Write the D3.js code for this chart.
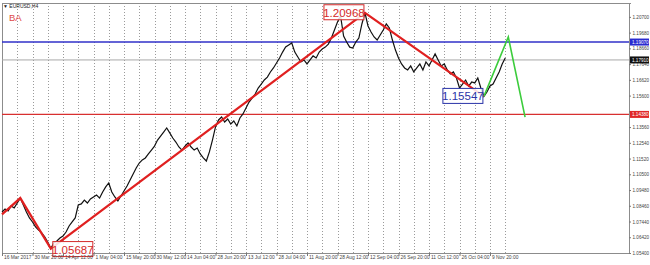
<!DOCTYPE html>
<html>
<head>
<meta charset="utf-8">
<script src="https://cdn.jsdelivr.net/npm/d3@7"></script>
<style>
  body { margin: 0; background: #fff; }
  svg { display: block; font-family: "Liberation Sans", Arial, sans-serif; }
</style>
</head>
<body>
<div id="vis"></div>
<script>
// tick labels on the time axis (one every label interval)
const timeLabels = ["16 Mar 2017", "30 Mar 20:00", "14 Apr 12:00", "1 May 04:00", "15 May 20:00",
  "30 May 12:00", "14 Jun 04:00", "28 Jun 20:00", "13 Jul 12:00", "28 Jul 04:00", "11 Aug 20:00",
  "28 Aug 12:00", "12 Sep 04:00", "26 Sep 20:00", "11 Oct 12:00", "26 Oct 04:00", "9 Nov 20:00"];

// price scale labels
const priceTicks = [1.05400, 1.06420, 1.07440, 1.08460, 1.09480, 1.10500, 1.11520, 1.12540,
  1.13560, 1.14580, 1.15600, 1.16620, 1.17640, 1.18660, 1.19680, 1.20700];

// EURUSD H4 close, sampled every 1/10 of a label interval
const prices = [
  1.0806, 1.0825, 1.0812, 1.0845, 1.0832, 1.0864, 1.0896, 1.0851, 1.0806, 1.0767,
  1.0741, 1.0709, 1.0689, 1.0670, 1.0644, 1.0611, 1.05687, 1.0605, 1.0618, 1.0637,
  1.0650, 1.0676, 1.0715, 1.0741, 1.0767, 1.0851, 1.0858, 1.0883, 1.0864, 1.0890,
  1.0903, 1.0916, 1.0896, 1.0935, 1.0968, 1.0994, 1.0935, 1.0903, 1.0877, 1.0909,
  1.0942, 1.0974, 1.1013, 1.1052, 1.1091, 1.1123, 1.1143, 1.1156, 1.1182, 1.1207,
  1.1233, 1.1272, 1.1298, 1.1324, 1.1350, 1.1318, 1.1285, 1.1259, 1.1227, 1.1207,
  1.1233, 1.1253, 1.1227, 1.1207, 1.1220, 1.1182, 1.1156, 1.1136, 1.1195, 1.1272,
  1.1357, 1.1402, 1.1421, 1.1389, 1.1408, 1.1376, 1.1395, 1.1363, 1.1415, 1.1441,
  1.1480, 1.1518, 1.1544, 1.1570, 1.1609, 1.1635, 1.1661, 1.1680, 1.1713, 1.1739,
  1.1771, 1.1804, 1.1842, 1.1875, 1.1888, 1.1901, 1.1842, 1.1810, 1.1778, 1.1791,
  1.1765, 1.1791, 1.1817, 1.1804, 1.1842, 1.1862, 1.1874, 1.1894, 1.1933, 1.1985,
  1.2037, 1.2076, 1.1946, 1.1907, 1.1874, 1.1868, 1.1907, 1.1933, 1.2024, 1.20968,
  1.2011, 1.1972, 1.1940, 1.1920, 1.1953, 1.1985, 1.2024, 1.1998, 1.1920, 1.1855,
  1.1804, 1.1765, 1.1739, 1.1726, 1.1752, 1.1713, 1.1739, 1.1765, 1.1726, 1.1778,
  1.1752, 1.1791, 1.1830, 1.1791, 1.1752, 1.1765, 1.1726, 1.1700, 1.1713, 1.1674,
  1.1609, 1.1635, 1.1661, 1.1622, 1.1648, 1.1642, 1.1674, 1.1609, 1.15547, 1.1583,
  1.1622, 1.1635, 1.1674, 1.1713, 1.1765, 1.1804
];
const priceStep = 0.1;

// zigzag (red) and projection (green): time in label intervals, price
const zigzagT = [0, 0.6, 1.6, 11.9, 15.8];
const zigzagV = [1.0790, 1.0896, 1.05687, 1.20968, 1.15547];
const projT = [15.8, 16.6, 17.15];
const projV = [1.15547, 1.1940, 1.1420];

// horizontal levels
const blueLevel = 1.19070;
const lastPrice = 1.17910;
const redLevel = 1.14380;

const W = 650, H = 265;
const pl = 2, pr = 629, pt = 3, pb = 253;

const svg = d3.select("#vis").append("svg")
    .attr("width", W)
    .attr("height", H);

const x = d3.scaleLinear().domain([0, (pr - pl) / 30.5]).range([pl, pr]);
const y = d3.scaleLinear().domain([1.054, 1.054 + (pb - pt) * 0.000648]).range([pb, pt]);

// vertical dotted grid
const gridT = d3.range(1, 34).map(k => k * 0.5);
svg.append("g").selectAll("line")
    .data(gridT)
  .enter().append("line")
    .attr("x1", d => Math.round(x(d)) + 0.5)
    .attr("x2", d => Math.round(x(d)) + 0.5)
    .attr("y1", pt)
    .attr("y2", pb)
    .attr("stroke", "#9a9a9a")
    .attr("stroke-dasharray", "1,2");

// frame
svg.append("rect")
    .attr("x", pl + 0.5).attr("y", pt + 0.5)
    .attr("width", pr - pl).attr("height", pb - pt)
    .attr("fill", "none").attr("stroke", "#8c8c8c");

// horizontal levels
svg.append("line")
    .attr("x1", pl).attr("x2", pr)
    .attr("y1", y(lastPrice)).attr("y2", y(lastPrice))
    .attr("stroke", "#a8a8a8").attr("stroke-width", 1);
svg.append("line")
    .attr("x1", pl).attr("x2", pr)
    .attr("y1", y(blueLevel)).attr("y2", y(blueLevel))
    .attr("stroke", "#3030c8").attr("stroke-width", 1.6);
svg.append("line")
    .attr("x1", pl).attr("x2", pr)
    .attr("y1", y(redLevel)).attr("y2", y(redLevel))
    .attr("stroke", "#d83030").attr("stroke-width", 1.2);

// price line
const line = d3.line()
    .x((d, i) => x(i * priceStep))
    .y(d => y(d));
svg.append("path")
    .datum(prices)
    .attr("d", line)
    .attr("fill", "none")
    .attr("stroke", "#111")
    .attr("stroke-width", 1.2);

// zigzag and projection
const pathT = d3.line().x(d => x(d[0])).y(d => y(d[1]));
svg.append("path")
    .datum(d3.zip(zigzagT, zigzagV))
    .attr("d", pathT)
    .attr("fill", "none")
    .attr("stroke", "#e02020")
    .attr("stroke-width", 2.2);
svg.append("path")
    .datum(d3.zip(projT, projV))
    .attr("d", pathT)
    .attr("fill", "none")
    .attr("stroke", "#3ccc3c")
    .attr("stroke-width", 1.6);

// callouts at the swing points
function callout(t, v, color, dx, dy) {
    const g = svg.append("g").attr("transform", `translate(${x(t) + dx},${y(v) + dy})`);
    g.append("rect")
        .attr("width", 40).attr("height", 15)
        .attr("fill", "#fff").attr("fill-opacity", 0.85)
        .attr("stroke", color).attr("stroke-width", 1);
    g.append("text")
        .attr("x", 20).attr("y", 12)
        .attr("text-anchor", "middle")
        .attr("font-size", 11.5)
        .attr("fill", color)
        .text(v.toFixed(5));
}
callout(zigzagT[3], zigzagV[3], "#d42a2a", -41, -8);
callout(zigzagT[2], zigzagV[2], "#d42a2a", 2, -7);
callout(zigzagT[4], zigzagV[4], "#2a34a8", -41, -8);

// price axis; labels hidden under a level tag are left out
const tagged = [blueLevel, lastPrice, redLevel];
const hidden = d => tagged.some(v => Math.abs(y(v) - y(d)) < 3.5);
const yAxis = svg.append("g")
    .attr("transform", `translate(${pr},0)`)
    .call(d3.axisRight(y).tickValues(priceTicks).tickSize(2)
        .tickFormat(d => hidden(d) ? "" : d.toFixed(5)));
yAxis.select(".domain").attr("stroke", "#8c8c8c");
yAxis.selectAll(".tick line").attr("stroke", "#777");
yAxis.selectAll("text").attr("font-size", 4.6).attr("fill", "#444").attr("x", 3.5);

// time axis
const xAxis = svg.append("g")
    .attr("transform", `translate(0,${pb})`)
    .call(d3.axisBottom(x).tickValues(d3.range(timeLabels.length)).tickSize(3).tickFormat(i => timeLabels[i]));
xAxis.select(".domain").remove();
xAxis.selectAll(".tick line").attr("stroke", "#777");
xAxis.selectAll("text")
    .attr("font-size", 4.9)
    .attr("fill", "#444")
    .attr("text-anchor", "start")
    .attr("dx", 1.5)
    .attr("y", 3)
    .attr("dy", "0.71em");

// highlighted level labels on the price axis
function levelTag(v, bg) {
    const yy = y(v);
    svg.append("rect")
        .attr("x", pr + 1).attr("y", yy - 3.5)
        .attr("width", 19).attr("height", 7)
        .attr("fill", bg);
    svg.append("text")
        .attr("x", pr + 3).attr("y", yy + 1.7)
        .attr("font-size", 4.6)
        .attr("fill", "#fff")
        .text(v.toFixed(5));
}
levelTag(blueLevel, "#2a2ad0");
levelTag(lastPrice, "#111");
levelTag(redLevel, "#e02828");

// symbol caption
svg.append("text")
    .attr("x", 3).attr("y", 8)
    .attr("font-size", 5)
    .attr("fill", "#222")
    .text("\u25BC EURUSD,H4");
svg.append("text")
    .attr("x", 9).attr("y", 21)
    .attr("font-size", 9.5)
    .attr("fill", "#e04848")
    .text("BA");
</script>
</body>
</html>
